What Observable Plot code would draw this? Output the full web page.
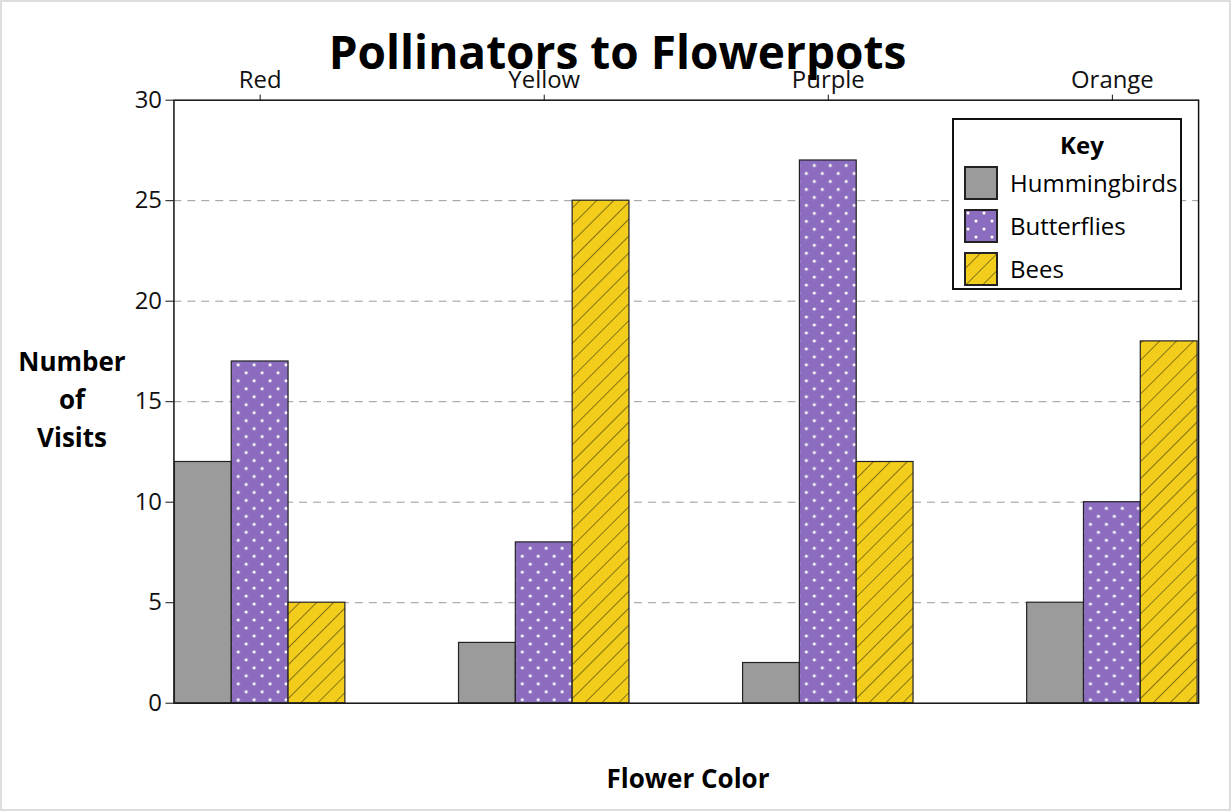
<!DOCTYPE html>
<html><head><meta charset="utf-8">
<script src="https://cdn.jsdelivr.net/npm/d3@7"></script>
<script src="https://cdn.jsdelivr.net/npm/@observablehq/plot@0.6"></script>
<style>
body{margin:0;background:#fff;font-family:"Open Sans",sans-serif;}
#wrap{position:relative;width:1231px;height:811px;box-sizing:border-box;border:2px solid #ddd;overflow:hidden}
#title{position:absolute;left:0;width:1231px;top:18px;text-align:center;font-weight:bold;font-size:46px;}
#ylab{position:absolute;left:10px;width:120px;top:340px;text-align:center;font-weight:bold;font-size:26px;line-height:38px;}
#xlab{position:absolute;left:172px;width:1028px;top:758px;text-align:center;font-weight:bold;font-size:26px;}
#grid,#chart{position:absolute;left:0;top:0}
#key{position:absolute;left:950px;top:116px;width:230px;height:172px;border:2px solid #111;background:#fff;box-sizing:border-box;font-size:24px}
#key .h{text-align:center;font-weight:bold;margin-top:8px;margin-left:30px}
#key .r{display:flex;align-items:center;margin-left:10px;height:43px}
#key svg{margin-right:12px}
</style></head><body>
<div id="wrap">
<div id="grid"></div>
<div id="chart"></div>
<div id="title">Pollinators to Flowerpots</div>
<div id="ylab">Number<br>of<br>Visits</div>
<div id="xlab">Flower Color</div>
<div id="key"></div>
</div>
<script>
const flowers = ["Red","Yellow","Purple","Orange"];
const seriesNames = ["Hummingbirds","Butterflies","Bees"];
const hummingbirds = [12,3,2,5];
const butterflies = [17,8,27,10];
const bees = [5,25,12,18];
const yTicks = [0,5,10,15,20,25,30];
const gridTicks = [5,10,15,20,25];
const fills = ["#9b9b9b","url(#dots)","url(#stripes)"];

const vals = [hummingbirds, butterflies, bees];
const data = [];
flowers.forEach((f,i)=>seriesNames.forEach((s,j)=>data.push({flower:f,series:s,value:vals[j][i]})));

const defs = `<defs>
<pattern id="dots" width="16" height="16" patternUnits="userSpaceOnUse">
<rect width="16" height="16" fill="#8b6cbf"/><circle cx="4" cy="4" r="1.6" fill="#fff"/><circle cx="12" cy="12" r="1.6" fill="#fff"/></pattern>
<pattern id="stripes" width="12" height="12" patternUnits="userSpaceOnUse" patternTransform="rotate(45)">
<rect width="12" height="12" fill="#f3cd1c"/><line x1="0" y1="0" x2="0" y2="12" stroke="#6b5a10" stroke-width="1.6"/></pattern></defs>`;

const common = {
  width:1231, height:811,
  marginLeft:172, marginRight:31, marginTop:98, marginBottom:108,
  style:{fontFamily:"Open Sans, sans-serif", fontSize:"24px", color:"#111", background:"transparent"},
  y:{domain:[0,30], ticks:yTicks, label:null}
};

const grid = Plot.plot({
  ...common,
  x:{domain:[0,1], axis:null},
  marks:[
    Plot.ruleY(gridTicks,{stroke:"#999",strokeDasharray:"8,6"}),
    Plot.axisY({ticks:yTicks,tickSize:8,tickPadding:4,fontSize:24,label:null}),
    Plot.frame({stroke:"#111",strokeWidth:1.5})
  ]
});
document.getElementById("grid").appendChild(grid);

const plot = Plot.plot({
  ...common,
  fx:{domain:flowers, padding:0.4, label:null},
  x:{domain:seriesNames, padding:0, axis:null},
  color:{domain:seriesNames, range:fills},
  marks:[
    Plot.barY(data,{fx:"flower",x:"series",y:"value",fill:"series",stroke:"#222",strokeWidth:1.2}),
    Plot.axisY({ticks:[],label:null}),
    Plot.axisFx({tickSize:6,fontSize:24,label:null,tickPadding:6})
  ]
});
plot.insertAdjacentHTML("afterbegin", defs);
document.getElementById("chart").appendChild(plot);

const key = document.getElementById("key");
let html = '<div class="h">Key</div>';
seriesNames.forEach((s,i)=>{
  html += `<div class="r"><svg width="34" height="34"><rect x="1" y="1" width="32" height="32" fill="${fills[i]}" stroke="#222" stroke-width="2"/></svg>${s}</div>`;
});
key.innerHTML = html;
</script>
</body></html>
